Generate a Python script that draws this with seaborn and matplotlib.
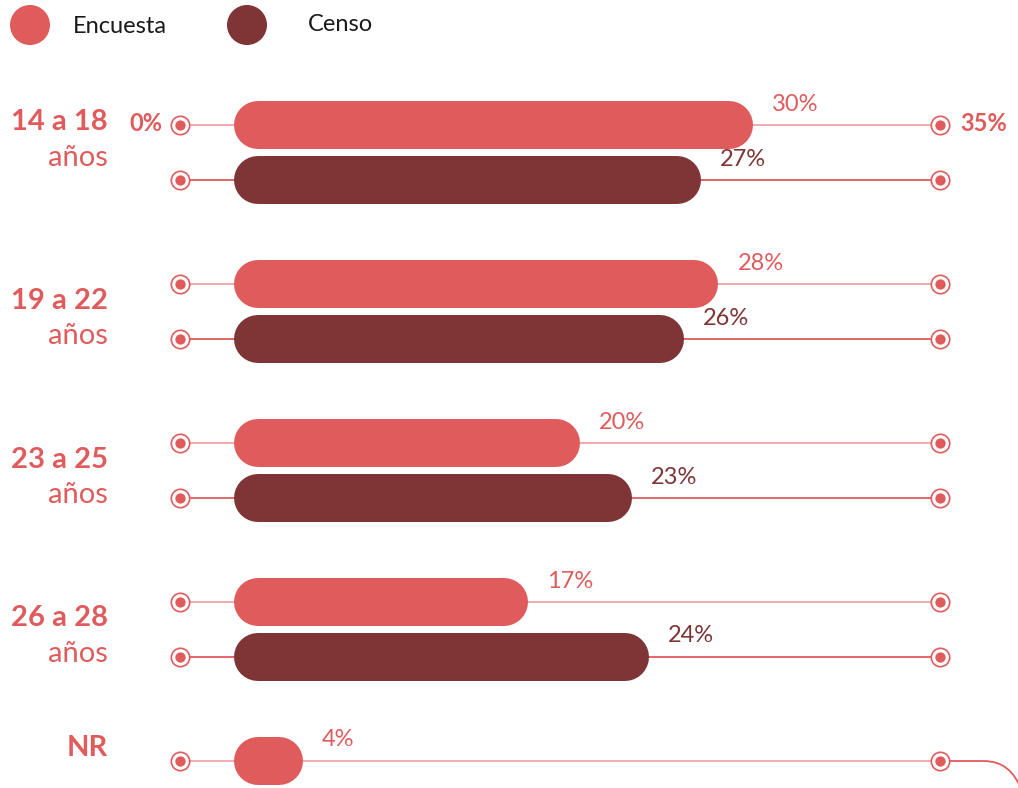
import numpy as np
import pandas as pd
import matplotlib
matplotlib.use("Agg")
import matplotlib.pyplot as plt
import seaborn as sns
from matplotlib.patches import PathPatch
from matplotlib.path import Path

# ---------------- data ----------------
groups = ["14 a 18", "19 a 22", "23 a 25", "26 a 28", "NR"]
encuesta = [30, 28, 20, 17, 4]
censo = [27, 26, 23, 24]
series = ["Encuesta", "Censo"]
axis_labels = ["0%", "35%"]
unit_word = "años"

# ---------------- style ----------------
C_ENC = "#e05b5c"
C_CEN = "#7f3435"
C_LINE_ENC = "#f0a5a5"
C_LINE_CEN = "#e05b5c"
C_TEXT = "#1a1a1a"

sns.set_theme(style="white")
plt.rcParams['font.family'] = ['Lato', 'DejaVu Sans']

W, H = 1018, 788
fig = plt.figure(figsize=(W / 100, H / 100), dpi=100)
ax = fig.add_axes([0, 0, 1, 1])

X0 = 234.0   # pixel where bars start
K = 17.3     # pixels per percent


def px(x):
    return (x - X0) / K


GAP = 159
y_enc = [125 + GAP * i for i in range(len(encuesta))]
y_cen = [180 + GAP * i for i in range(len(censo))]
BAR_H = 48

df_e = pd.DataFrame({"valor": encuesta, "pos": y_enc})
df_c = pd.DataFrame({"valor": censo, "pos": y_cen})

sns.barplot(data=df_e, x="valor", y="pos", orient="y", native_scale=True,
            width=BAR_H / GAP, color=C_ENC, saturation=1, errorbar=None, ax=ax)
sns.barplot(data=df_c, x="valor", y="pos", orient="y", native_scale=True,
            width=BAR_H / GAP, color=C_CEN, saturation=1, errorbar=None, ax=ax)

# turn bars into pills (round-capped thick strokes with the same extent)
r = (BAR_H / 2) / K  # cap radius in x data units
for p in list(ax.patches):
    x, y = p.get_x(), p.get_y()
    w, h = p.get_width(), p.get_height()
    fc = p.get_facecolor()
    p.remove()
    yc = y + h / 2
    ax.plot([x + r, x + w - r], [yc, yc], color=fc, lw=BAR_H * 0.72,
            solid_capstyle="round", zorder=3)

# guide lines and end markers
LX0, LX1 = px(180), px(940)
for yy in y_enc:
    ax.plot([LX0, LX1], [yy, yy], color=C_LINE_ENC, lw=1.3, zorder=1)
for yy in y_cen:
    ax.plot([LX0, LX1], [yy, yy], color=C_LINE_CEN, lw=1.3, zorder=1)

all_y = y_enc + y_cen
for xx in (LX0, LX1):
    ax.scatter([xx] * len(all_y), all_y, s=175, facecolor="white",
               edgecolor=C_ENC, linewidth=1.2, zorder=4)
    ax.scatter([xx] * len(all_y), all_y, s=55, color=C_ENC, linewidth=0, zorder=5)

# decorative curve at the bottom right
yl = y_enc[-1]
verts = [(LX1, yl), (px(983), yl), (px(1003), yl), (px(1014), yl + 10), (px(1022), yl + 30)]
codes = [Path.MOVETO, Path.LINETO, Path.CURVE4, Path.CURVE4, Path.CURVE4]
ax.add_patch(PathPatch(Path(verts, codes), fc="none", ec=C_ENC, lw=1.3, zorder=1))

# value labels
for v, yy in zip(encuesta, y_enc):
    ax.text(v + 1.1, yy - 21, f"{v}%", color=C_ENC, fontsize=17,
            ha="left", va="center", zorder=6)
for v, yy in zip(censo, y_cen):
    ax.text(v + 1.1, yy - 21, f"{v}%", color=C_CEN, fontsize=17,
            ha="left", va="center", zorder=6)

# axis end labels
ax.text(px(162), y_enc[0] - 2, axis_labels[0], color=C_ENC, fontsize=17,
        fontweight="bold", ha="right", va="center")
ax.text(px(960), y_enc[0] - 2, axis_labels[1], color=C_ENC, fontsize=17,
        fontweight="bold", ha="left", va="center")

# group labels
LAB_X = px(108)
for i, g in enumerate(groups):
    if i == 0:
        yb, ya = y_enc[0] - 3, y_enc[0] + 33
    elif i < len(censo):
        c = (y_enc[i] + y_cen[i]) / 2
        yb, ya = c - 11, c + 24
    else:
        yb, ya = y_enc[i] - 13, None
    ax.text(LAB_X, yb, g, color=C_ENC, fontsize=21, fontweight="bold",
            ha="right", va="center")
    if ya is not None:
        ax.text(LAB_X, ya, unit_word, color=C_ENC, fontsize=21,
                ha="right", va="center")

# legend
ax.scatter([px(30), px(247)], [25, 25], s=830, c=[C_ENC, C_CEN], linewidth=0, zorder=5)
ax.text(px(73), 26, series[0], color=C_TEXT, fontsize=17, ha="left", va="center")
ax.text(px(308), 24, series[1], color=C_TEXT, fontsize=17, ha="left", va="center")

ax.set_xlim(px(0), px(W))
ax.set_ylim(H, 0)
ax.set_axis_off()

fig.savefig("out.png", dpi=100)
